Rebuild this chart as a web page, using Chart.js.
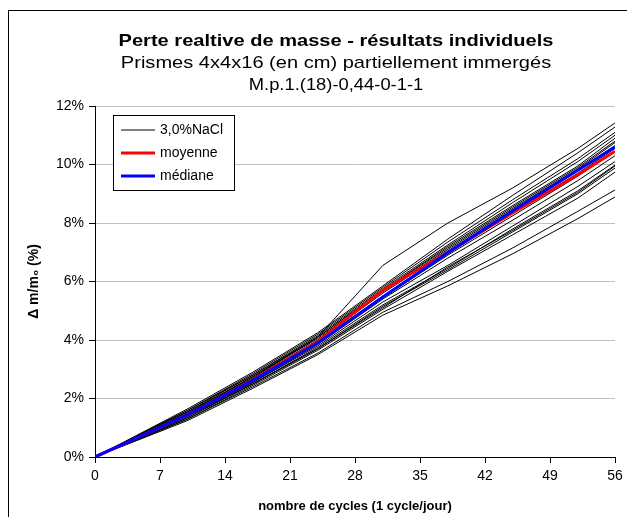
<!DOCTYPE html>
<html>
<head>
<meta charset="utf-8">
<script src="https://cdn.jsdelivr.net/npm/chart.js@4"></script>
<style>
  body { margin: 0; overflow: hidden; background: #fff; }
  #frame { position: absolute; left: 8px; top: 10px; width: 660px; height: 520px; border: 1px solid #000; }
</style>
</head>
<body>
<div id="frame"><canvas id="chart" width="660" height="520"></canvas></div>
<script>
// cycles (days) where the specimens were weighed
const cycles = [0, 10, 17, 24, 31, 38, 45, 52, 56];

// individual specimens, relative mass loss in %
const specimens = [
  [0, 1.50, 2.70, 4.10, 6.55, 8.00, 9.20, 10.55, 11.42],
  [0, 1.65, 2.90, 4.25, 5.85, 7.45, 8.95, 10.40, 11.28],
  [0, 1.60, 2.85, 4.20, 5.80, 7.35, 8.80, 10.20, 11.10],
  [0, 1.55, 2.80, 4.15, 5.75, 7.25, 8.70, 10.10, 11.00],
  [0, 1.60, 2.80, 4.10, 5.70, 7.20, 8.60, 9.95, 10.90],
  [0, 1.50, 2.75, 4.10, 5.70, 7.15, 8.55, 9.90, 10.80],
  [0, 1.50, 2.75, 4.05, 5.65, 7.10, 8.50, 9.85, 10.75],
  [0, 1.55, 2.70, 4.00, 5.60, 7.05, 8.45, 9.80, 10.65],
  [0, 1.45, 2.65, 3.95, 5.50, 6.95, 8.35, 9.70, 10.55],
  [0, 1.40, 2.60, 3.90, 5.45, 6.90, 8.25, 9.60, 10.45],
  [0, 1.45, 2.55, 3.85, 5.40, 6.80, 8.10, 9.45, 10.30],
  [0, 1.40, 2.55, 3.80, 5.30, 6.55, 7.90, 9.25, 10.10],
  [0, 1.35, 2.50, 3.70, 5.10, 6.50, 7.75, 9.05, 9.95],
  [0, 1.35, 2.50, 3.75, 5.20, 6.45, 7.80, 9.10, 9.98],
  [0, 1.40, 2.50, 3.70, 5.15, 6.40, 7.70, 9.00, 9.88],
  [0, 1.30, 2.45, 3.65, 5.05, 6.35, 7.60, 8.85, 9.74],
  [0, 1.30, 2.40, 3.55, 4.95, 6.00, 7.15, 8.40, 9.13],
  [0, 1.25, 2.35, 3.50, 4.85, 5.85, 6.95, 8.15, 8.89]
];

const moyenne = [0, 1.45, 2.65, 3.95, 5.70, 7.00, 8.35, 9.65, 10.45];
const mediane = [0, 1.45, 2.62, 3.90, 5.47, 6.98, 8.42, 9.80, 10.60];

const yTicks = [0, 2, 4, 6, 8, 10, 12];
const xTicks = [0, 7, 14, 21, 28, 35, 42, 49, 56];

const titleLines = [
  "Perte realtive de masse - résultats individuels",
  "Prismes 4x4x16 (en cm) partiellement immergés",
  "M.p.1.(18)-0,44-0-1-1"
];

const FONT = "'Liberation Sans', Arial, sans-serif";

const toPoints = (vals) => vals.map((v, i) => ({ x: cycles[i], y: v }));

const datasets = [
  { label: "médiane", data: toPoints(mediane), borderColor: "#0000ff", borderWidth: 3, order: 0 },
  { label: "moyenne", data: toPoints(moyenne), borderColor: "#ff0000", borderWidth: 3, order: 1 }
];
specimens.forEach((s, i) => {
  datasets.push({ label: i === 0 ? "3,0%NaCl" : "", data: toPoints(s), borderColor: "#000", borderWidth: 1, order: 2 });
});

// titles drawn over the whole chart box; the original text is a bit stretched sideways
const titlePlugin = {
  id: "titles",
  afterDraw(chart) {
    const ctx = chart.ctx;
    const line = (text, font, y, sx) => {
      ctx.save();
      ctx.translate(327, y);
      ctx.scale(sx, 1);
      ctx.font = font;
      ctx.fillText(text, 0, 0);
      ctx.restore();
    };
    ctx.save();
    ctx.fillStyle = "#000";
    ctx.textAlign = "center";
    ctx.textBaseline = "middle";
    line(titleLines[0], "bold 17px " + FONT, 30, 1.18);
    line(titleLines[1], "17px " + FONT, 52, 1.18);
    line(titleLines[2], "17px " + FONT, 74, 1.08);
    ctx.restore();
  }
};

// boxed legend inside the plot, top left
const legendPlugin = {
  id: "boxLegend",
  afterDraw(chart) {
    const ctx = chart.ctx;
    const items = [2, 1, 0].map((i) => chart.data.datasets[i]);
    const left = chart.chartArea.left + 18, top = 104;
    ctx.save();
    ctx.fillStyle = "#fff";
    ctx.fillRect(left, top, 121, 75);
    ctx.strokeStyle = "#000";
    ctx.lineWidth = 1;
    ctx.strokeRect(left + 0.5, top + 0.5, 121, 75);
    ctx.font = "14px " + FONT;
    ctx.textBaseline = "middle";
    items.forEach((ds, k) => {
      const y = top + 15 + k * 23;
      ctx.strokeStyle = ds.borderColor;
      ctx.lineWidth = ds.borderWidth;
      ctx.beginPath();
      ctx.moveTo(left + 8, y);
      ctx.lineTo(left + 42, y);
      ctx.stroke();
      ctx.fillStyle = "#000";
      ctx.fillText(ds.label, left + 47, y);
    });
    ctx.restore();
  }
};

new Chart(document.getElementById("chart"), {
  type: "line",
  data: { datasets },
  plugins: [titlePlugin, legendPlugin],
  options: {
    responsive: false,
    animation: false,
    layout: { padding: { top: 95, right: 54, bottom: 14, left: 0 } },
    elements: { point: { radius: 0 }, line: { tension: 0 } },
    plugins: { legend: { display: false }, tooltip: { enabled: false } },
    scales: {
      x: {
        type: "linear",
        min: 0,
        max: 56,
        afterBuildTicks: (axis) => { axis.ticks = xTicks.map((v) => ({ value: v })); },
        afterFit: (axis) => { axis.height = 60; },
        grid: { drawOnChartArea: false, tickLength: 6, color: "#000" },
        border: { color: "#000", width: 1 },
        ticks: { color: "#000", font: { family: FONT, size: 14 }, padding: 5, maxRotation: 0 },
        title: { display: true, text: "nombre de cycles (1 cycle/jour)", color: "#000",
                 font: { family: FONT, size: 13, weight: "bold" }, padding: { top: 0, bottom: 3 } }
      },
      y: {
        min: 0,
        max: 12,
        afterBuildTicks: (axis) => { axis.ticks = yTicks.map((v) => ({ value: v })); },
        afterFit: (axis) => { axis.width = 86; },
        grid: { color: "#c0c0c0", tickColor: "#000", tickLength: 6 },
        border: { color: "#000", width: 1 },
        ticks: { color: "#000", font: { family: FONT, size: 14 }, padding: 5, callback: (v) => v + "%" },
        title: { display: true, text: "Δ m/m₀ (%)", color: "#000",
                 font: { family: FONT, size: 14, weight: "bold" }, padding: { top: 17, bottom: 0 } }
      }
    }
  }
});
</script>
</body>
</html>
